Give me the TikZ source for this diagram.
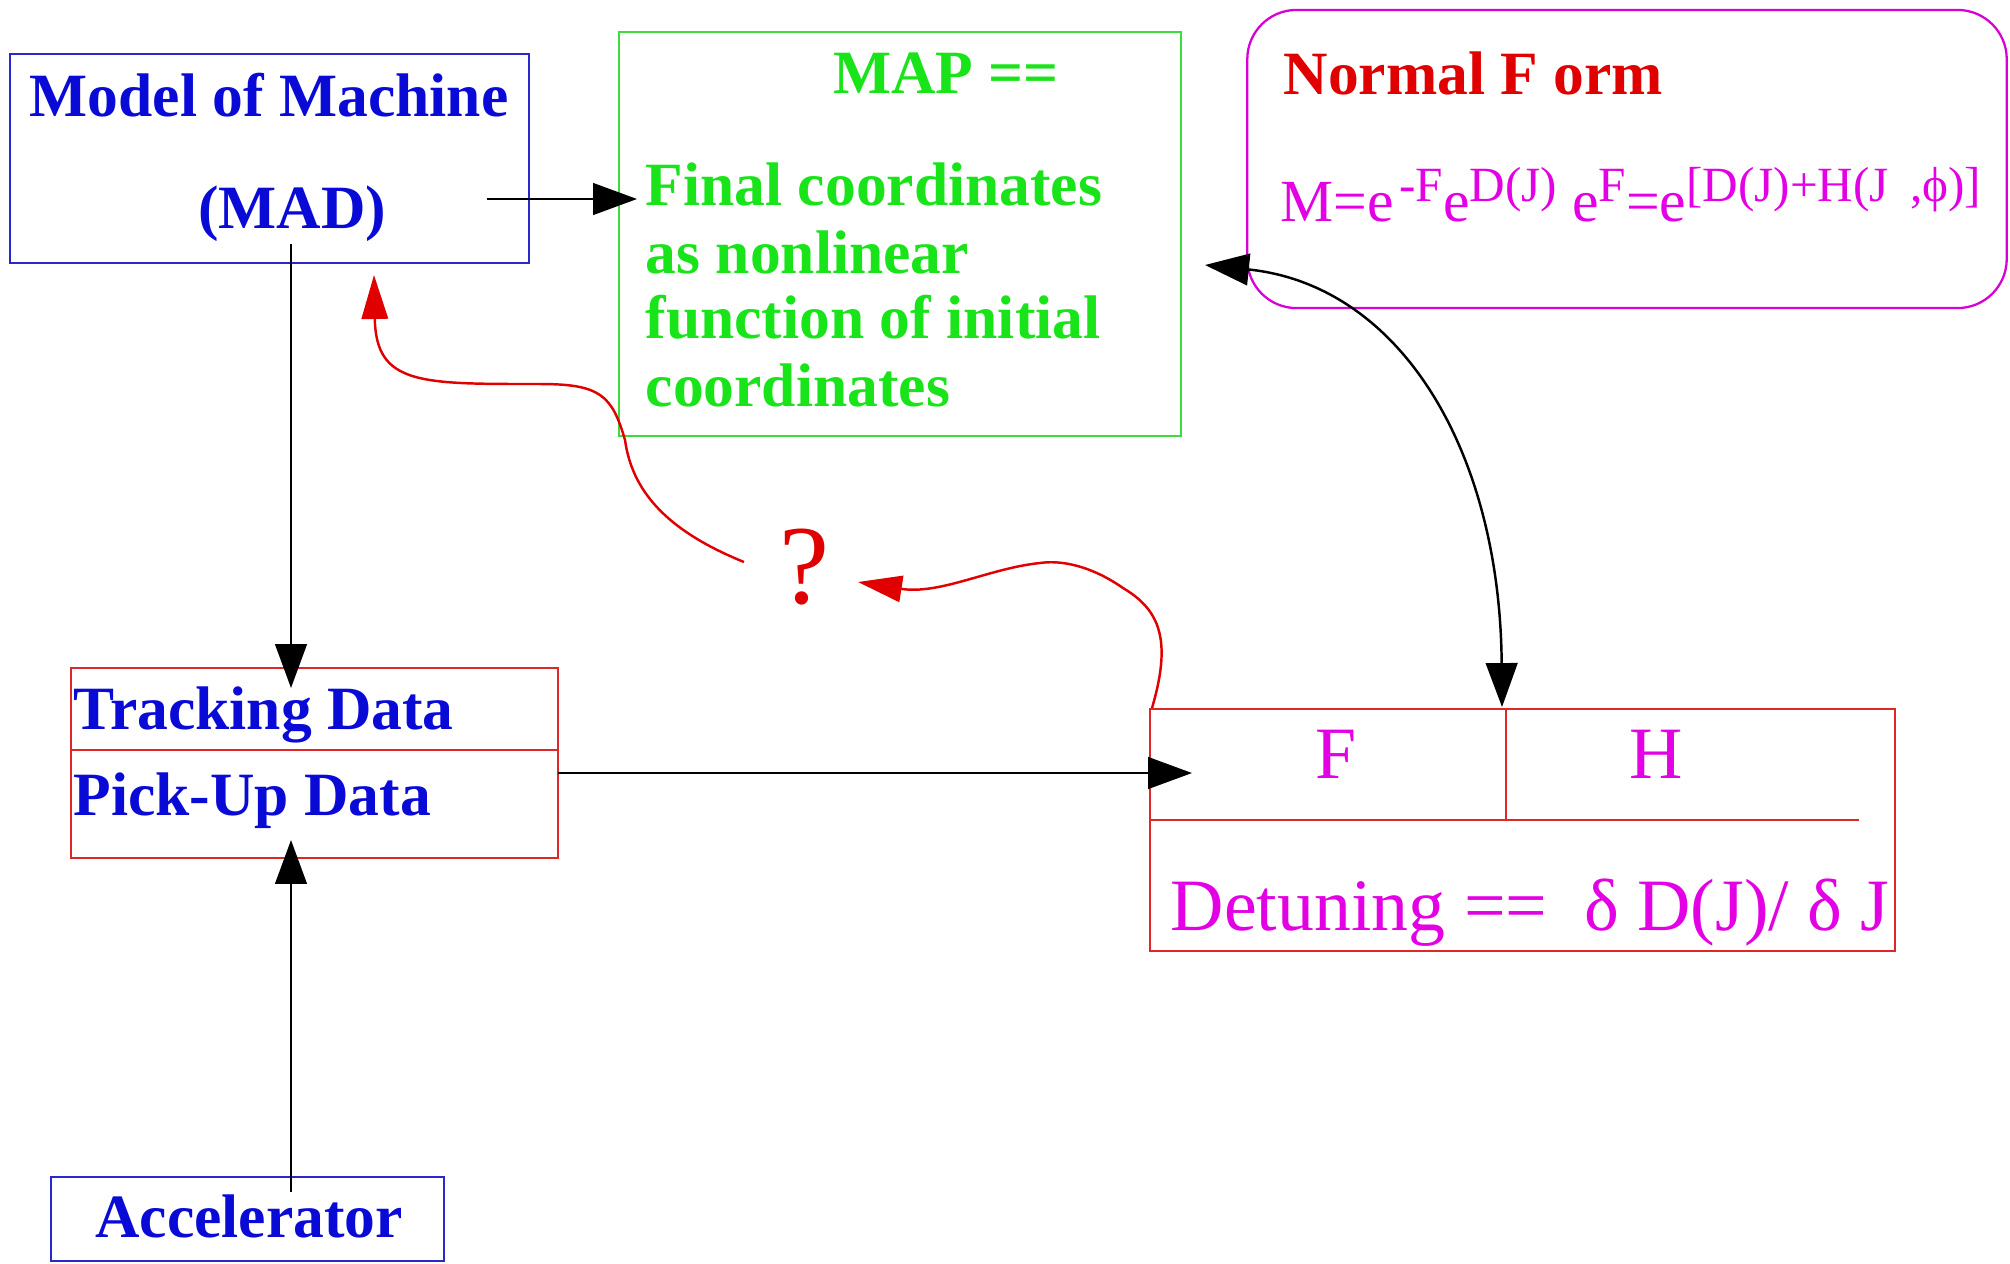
\documentclass[tikz,border=0pt]{standalone}
\usepackage{fontspec}
\setmainfont{Liberation Serif}
\usetikzlibrary{arrows.meta}

\definecolor{txtblue}{RGB}{10,10,215}
\definecolor{txtgreen}{RGB}{25,228,25}
\definecolor{txtred}{RGB}{225,0,0}
\definecolor{txtmag}{RGB}{228,0,228}
\definecolor{lnblue}{RGB}{40,40,205}
\definecolor{lngreen}{RGB}{60,220,60}
\definecolor{lnmag}{RGB}{215,0,215}
\definecolor{lnred}{RGB}{222,40,40}

% raised exponent in the normal-form formula
\newcommand\upx[1]{\raisebox{5.5pt}{\fontsize{14}{16}\selectfont #1}}

\begin{document}
\begin{tikzpicture}[x=0.01cm,y=-0.01cm,
  frame/.style={draw, line width=0.65pt, inner sep=0pt},
  txt/.style={inner sep=0pt},
  bigbold/.style={txt, font=\fontsize{17.5}{19}\selectfont\bfseries},
  bt/.style={bigbold, text=txtblue},
  gt/.style={bigbold, text=txtgreen},
  rt/.style={bigbold, text=txtred},
  mt/.style={txt, text=txtmag, font=\fontsize{21}{24}\selectfont},
  arr/.style={line width=0.7pt, -{Triangle[length=12.5pt,width=9pt]}},
  darr/.style={line width=0.7pt, {Triangle[length=12.5pt,width=9pt]}-{Triangle[length=12.5pt,width=9pt]}},
  rarr/.style={draw=txtred, line width=0.7pt, -{Triangle[length=12.5pt,width=7.5pt]}, color=txtred}]

\useasboundingbox (0,0) rectangle (2010,1263);

% boxes
\node[frame, draw=lnblue, minimum width=5.19cm, minimum height=2.09cm] (mom) at (269.5,158.5) {};
\node[frame, draw=lngreen, minimum width=5.62cm, minimum height=4.04cm] (map) at (900,234) {};
\node[frame, draw=lnmag, rounded corners=14pt, minimum width=7.59cm, minimum height=2.98cm] (nf) at (1627,159) {};
\node[frame, draw=lnred, minimum width=4.87cm, minimum height=1.90cm] (trk) at (314.5,763) {};
\node[frame, draw=lnred, minimum width=7.45cm, minimum height=2.42cm] (fh) at (1522.5,830) {};
\node[frame, draw=lnblue, minimum width=3.93cm, minimum height=0.84cm] (acc) at (247.5,1219) {};

% inner rules of the data and F/H boxes
\draw[draw=lnred, line width=0.65pt] (71,750) -- (558,750);
\draw[draw=lnred, line width=0.65pt] (1150,820) -- (1859,820);
\draw[draw=lnred, line width=0.65pt] (1506,709) -- (1506,820);

% texts
\node[bt, anchor=base] (momA) at (269,116) {Model of Machine};
\node[bt, anchor=base] (momB) at (292,228) {(MAD)};
\node[gt, anchor=base] (mapA) at (946,93) {MAP ==};
\node[gt, anchor=base west] (mapB) at (645,205) {Final coordinates};
\node[gt, anchor=base west] (mapC) at (645,273) {as nonlinear};
\node[gt, anchor=base west] (mapD) at (645,338) {function of initial};
\node[gt, anchor=base west] (mapE) at (645,406) {coordinates};
\node[rt, anchor=base west] (nfA) at (1283,94) {Normal F orm};
\node[txt, text=txtmag, font=\fontsize{17}{20}\selectfont, anchor=base west] (nfB) at (1280,221)
  {M=e\hspace{1.5pt}\upx{-F}e\upx{D(J)} e\upx{F}=e\upx{[D(J)+H(J\hspace{6pt},\symbol{"03D5})]}};
\node[bt, anchor=base west] (trkA) at (73,729) {Tracking Data};
\node[bt, anchor=base west] (trkB) at (73,815) {Pick-Up Data};
\node[bt, anchor=base] (accA) at (249,1237) {Accelerator};
\node[mt, anchor=base] (fA) at (1336,778) {F};
\node[mt, anchor=base] (hA) at (1656,778) {H};
\node[mt, anchor=base west] (det) at (1170,930) {Detuning ==\ \ δ D(J)/ δ J};
\node[txt, text=txtred, font=\fontsize{32}{34}\selectfont, anchor=base] (qm) at (804,603) {?};

% connector end points
\coordinate (madOut) at (487,199);
\coordinate (mapIn) at (637,199);
\coordinate (madDown) at (291,244);
\coordinate (trkTop) at (291,688);
\coordinate (accUp) at (291,1192);
\coordinate (trkBot) at (291,840);
\coordinate (pickOut) at (558,773);
\coordinate (fhIn) at (1192,773);
\coordinate (nfIn) at (1205,265);
\coordinate (fhTop) at (1502,707);
\coordinate (fhCorner) at (1152,708);
\coordinate (qmIn) at (858,582);
\coordinate (qmOut) at (744,562);
\coordinate (momIn) at (374,275);

% black connectors
\draw[arr] (madOut) -- (mapIn);
\draw[arr] (madDown) -- (trkTop);
\draw[arr] (accUp) -- (trkBot);
\draw[arr] (pickOut) -- (fhIn);
\draw[darr] (nfIn) .. controls (1400,285) and (1500,450) .. (fhTop);

% red feedback curves
\draw[rarr] (fhCorner) .. controls (1172,640) and (1160,610) .. (1123,588)
  .. controls (1090,565) and (1060,560) .. (1040,563)
  .. controls (990,568) and (940,595) .. (qmIn);
\draw[rarr] (qmOut) .. controls (665,530) and (632,490) .. (625,440)
  .. controls (612,395) and (600,384) .. (540,384)
  .. controls (420,384) and (376,385) .. (momIn);
\end{tikzpicture}
\end{document}
